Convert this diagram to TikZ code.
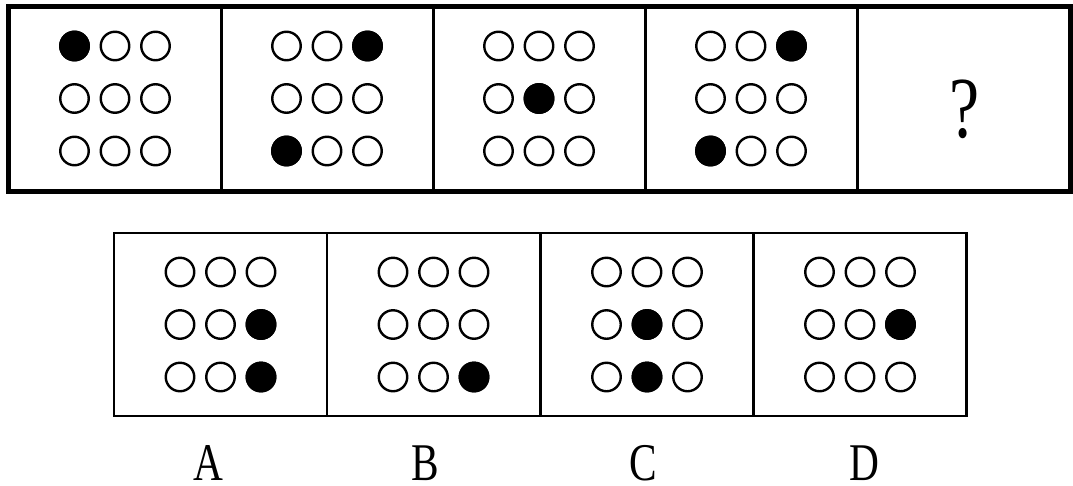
\documentclass[tikz,border=0pt]{standalone}
\usepackage{fontspec}
\setmainfont{Liberation Serif}

\begin{document}
\begin{tikzpicture}[x=1pt,y=-1pt,
    cell/.style={rectangle,draw,line width=3pt,minimum width=212pt,minimum height=183pt,inner sep=0pt},
    dot/.style={circle,draw,line width=2.4pt,minimum size=28.5pt,inner sep=0pt},
    full/.style={dot,fill=black},
    letter/.style={inner sep=0pt,anchor=base,xscale=0.78,font=\fontsize{53}{53}\selectfont}]
        \useasboundingbox (0,0) rectangle (1073,485);

        % question row
        \node[cell] at (115, 98.5) (t1) {};
        \node[cell] at (327, 98.5) (t2) {};
        \node[cell] at (539, 98.5) (t3) {};
        \node[cell] at (751, 98.5) (t4) {};
        \node[cell] at (963, 98.5) (t5) {};
        \draw[line width=4pt] (t1.north west) rectangle (t5.south east);

        % answer row
        \node[cell,line width=2.5pt,minimum width=213pt] at (220.5, 324.5) (a) {};
        \node[cell,line width=2.5pt,minimum width=213pt] at (433.5, 324.5) (b) {};
        \node[cell,line width=2.5pt,minimum width=213pt] at (647, 324.5) (c) {};
        \node[cell,line width=2.5pt,minimum width=213pt] at (860, 324.5) (d) {};

        \foreach \n/\cx/\cy in {t1/115/98.5, t2/327/98.5, t3/539/98.5, t4/751/98.5,
                a/220.5/324.5, b/433.5/324.5, c/647/324.5, d/860/324.5}
            \foreach \r in {1,2,3}
                \foreach \k in {1,2,3}
                    \node[dot] at ({\cx+40.5*(\k-2)}, {\cy+52.5*(\r-2)}) (\n-\r-\k) {};

        \node[full] at (t1-1-1) (f1) {};
        \node[full] at (t2-1-3) (f2) {};
        \node[full] at (t2-3-1) (f3) {};
        \node[full] at (t3-2-2) (f4) {};
        \node[full] at (t4-1-3) (f5) {};
        \node[full] at (t4-3-1) (f6) {};
        \node[full] at (a-2-3) (fa1) {};
        \node[full] at (a-3-3) (fa2) {};
        \node[full] at (b-3-3) (fb) {};
        \node[full] at (c-2-2) (fc1) {};
        \node[full] at (c-3-2) (fc2) {};
        \node[full] at (d-2-3) (fd) {};

        \node[letter,font=\fontsize{87}{87}\selectfont] at (965, 137) (q) {?};

        \node[letter] at (208, 480) (la) {A};
        \node[letter] at (425, 480) (lb) {B};
        \node[letter] at (643, 480) (lc) {C};
        \node[letter] at (864, 480) (ld) {D};
    \end{tikzpicture}
\end{document}
